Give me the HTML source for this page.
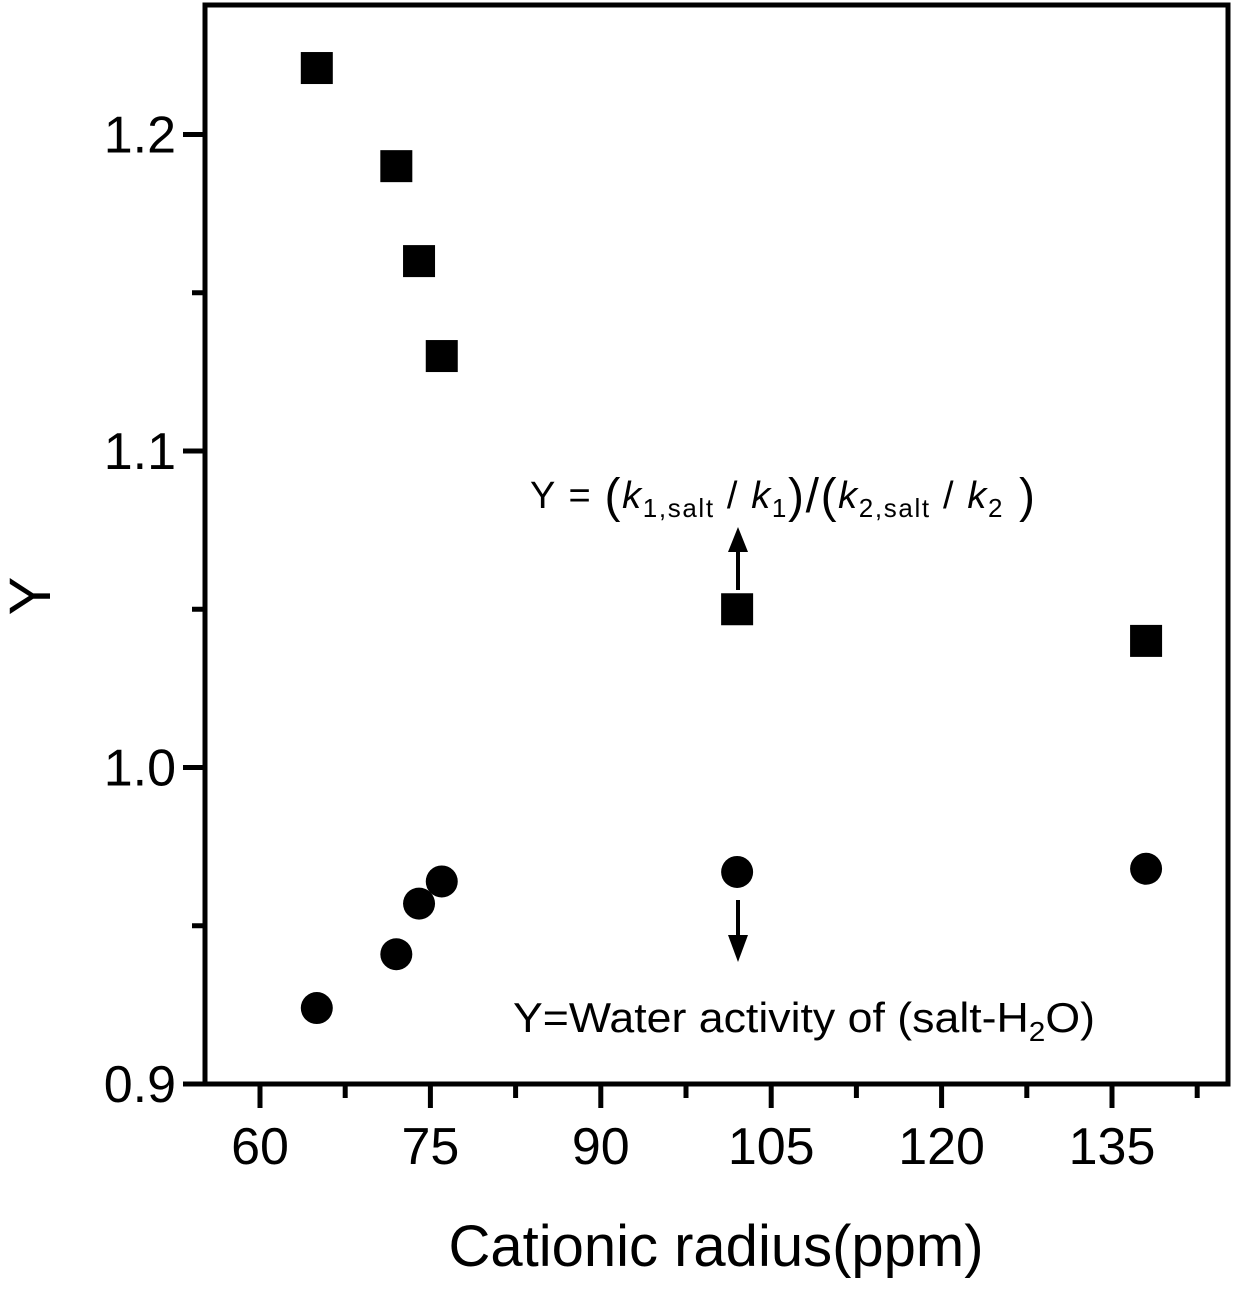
<!DOCTYPE html>
<html><head><meta charset="utf-8"><style>
body{margin:0;background:#fff}
svg text{font-family:"Liberation Sans",sans-serif;fill:#000}
</style></head><body>
<svg id="chart" width="1237" height="1285" viewBox="0 0 1237 1285" xmlns="http://www.w3.org/2000/svg">
<g id="axes"></g>
<g id="marks"></g>
<g id="annot">
  <text x="530" y="508" font-size="38" textLength="505" lengthAdjust="spacing">Y = <tspan font-size="48" dy="4">(</tspan><tspan font-style="italic" dy="-4">k</tspan><tspan font-size="26" dy="9">1,salt</tspan><tspan dy="-9"> / </tspan><tspan font-style="italic">k</tspan><tspan font-size="26" dy="9">1</tspan><tspan font-size="48" dy="-5">)/(</tspan><tspan font-style="italic" dy="-4">k</tspan><tspan font-size="26" dy="9">2,salt</tspan><tspan dy="-9"> / </tspan><tspan font-style="italic">k</tspan><tspan font-size="26" dy="9">2</tspan><tspan font-size="48" dy="-5"> )</tspan></text>
  <line x1="738" y1="590" x2="738" y2="545" stroke="#000" stroke-width="4"/>
  <polygon points="728,552 748,552 738,527" fill="#000"/>
  <line x1="738" y1="900" x2="738" y2="945" stroke="#000" stroke-width="4"/>
  <polygon points="728,935 748,935 738,962" fill="#000"/>
  <text x="513" y="1032" font-size="42" textLength="582" lengthAdjust="spacingAndGlyphs">Y=Water activity of (salt-H<tspan font-size="28" dy="9">2</tspan><tspan dy="-9">O)</tspan></text>
</g>
</svg>
<script>
const xCats=[65,72,74,76,102,138];
const ratioVals=[1.221,1.190,1.160,1.130,1.050,1.040];
const waterVals=[0.924,0.941,0.957,0.964,0.967,0.968];
const xTicks=[60,75,90,105,120,135];
const yTicks=[0.9,1.0,1.1,1.2];
const NS="http://www.w3.org/2000/svg";
const L=205,R=1228,T=5,B=1084;
const x=v=>260+(v-60)*170.4/15;
const y=v=>1084-(v-0.9)*3165;
function mk(tag,attrs,parent){const e=document.createElementNS(NS,tag);for(const k in attrs)e.setAttribute(k,attrs[k]);parent.appendChild(e);return e;}
const ax=document.getElementById('axes');
const frame=mk('rect',{x:L,y:T,width:R-L,height:B-T,fill:'none',stroke:'#000','stroke-width':5},ax);


xTicks.forEach(t=>{
  const l=mk('line',{x1:x(t),x2:x(t),y1:B,y2:B+24,stroke:'#000','stroke-width':5},ax);
  
  
  const m=mk('line',{x1:x(t+7.5),x2:x(t+7.5),y1:B,y2:B+14,stroke:'#000','stroke-width':5},ax);
  
  
  const tx=mk('text',{x:x(t),y:1164,'font-size':52,'text-anchor':'middle'},ax);tx.textContent=t;
  
  
});
yTicks.forEach(t=>{
  const l=mk('line',{x1:L-22,x2:L,y1:y(t),y2:y(t),stroke:'#000','stroke-width':5},ax);
  
  
  if(t<1.2){const m=mk('line',{x1:L-13,x2:L,y1:y(t+0.05),y2:y(t+0.05),stroke:'#000','stroke-width':5},ax);
  
  }
  const tx=mk('text',{x:176,y:y(t)+18,'font-size':52,'text-anchor':'end'},ax);tx.textContent=t.toFixed(1);
  
  
});
const xt=mk('text',{x:716,y:1266,'font-size':58,'text-anchor':'middle'},ax);xt.textContent='Cationic radius(ppm)';


const yt=mk('text',{x:0,y:0,'font-size':58,'text-anchor':'middle',transform:'translate(50,596) rotate(-90)'},ax);yt.textContent='Y';


const mg=document.getElementById('marks');
xCats.forEach((c,i)=>{
  const s=mk('rect',{x:x(c)-16,y:y(ratioVals[i])-16,width:32,height:32,fill:'#000'},mg);
  
  
  const ci=mk('circle',{cx:x(c),cy:y(waterVals[i]),r:16,fill:'#000'},mg);
  
  
});
</script>
</body></html>
